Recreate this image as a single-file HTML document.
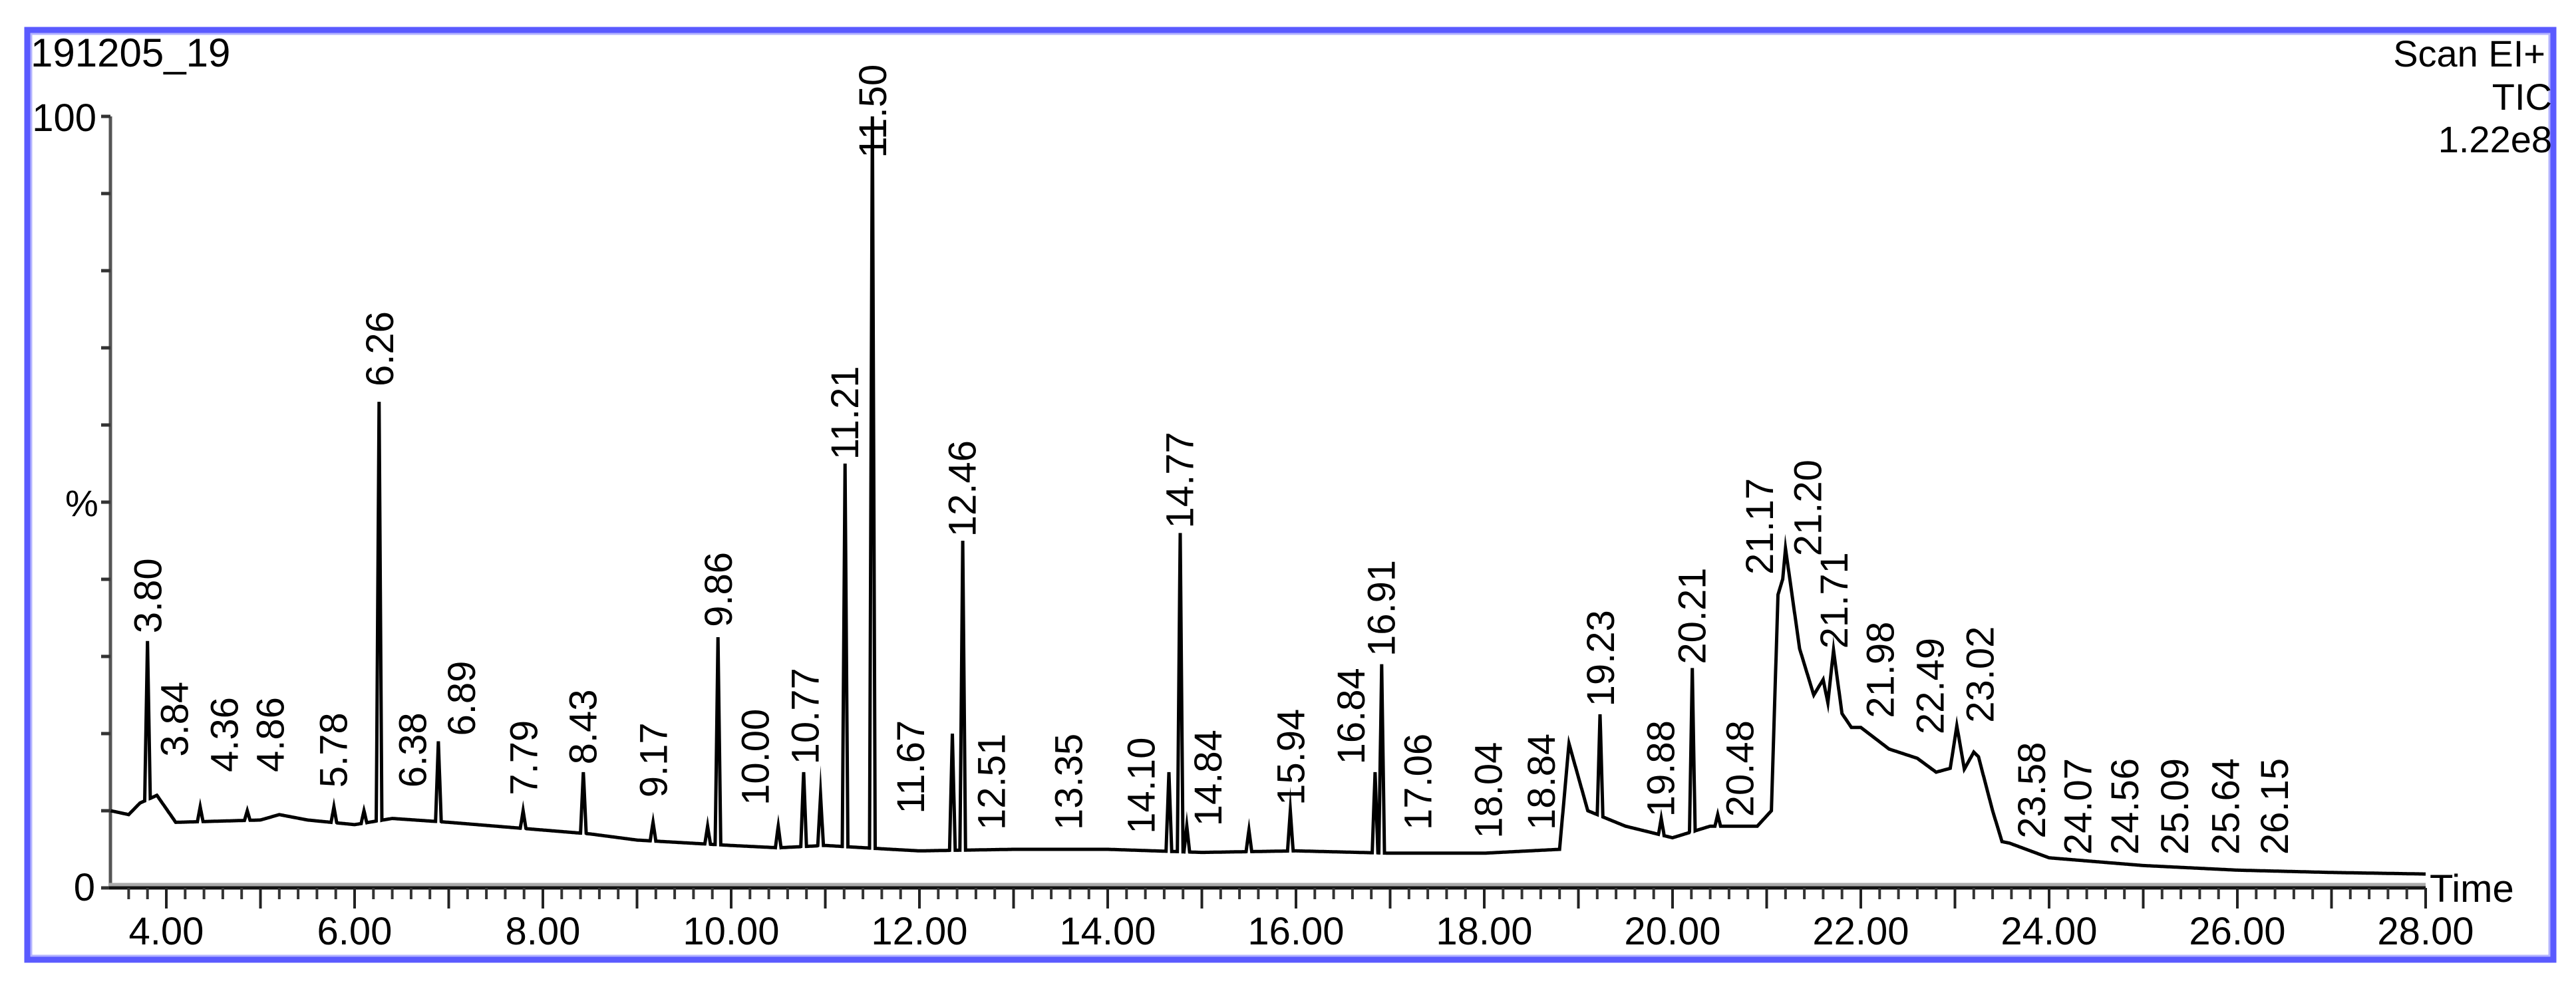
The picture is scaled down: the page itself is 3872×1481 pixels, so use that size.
<!DOCTYPE html>
<html><head><meta charset="utf-8"><style>
html,body{margin:0;padding:0;background:#fff;}
svg{display:block;font-family:"Liberation Sans",Arial,sans-serif;}
</style></head><body>
<svg id="chart" width="3872" height="1481" viewBox="0 0 3872 1481" xmlns="http://www.w3.org/2000/svg">
<rect x="41" y="45" width="3797" height="1398" fill="none" stroke="#5a5aff" stroke-width="9"/>
<rect x="47" y="51" width="3785" height="1386" fill="none" stroke="#b4b4ff" stroke-width="3"/>
<text x="46" y="100" font-size="60">191205_19</text>
<text x="3826" y="100" font-size="56" text-anchor="end">Scan  EI+</text>
<text x="3836" y="165" font-size="56" text-anchor="end">TIC</text>
<text x="3836" y="229" font-size="56" text-anchor="end">1.22e8</text>
<text x="145" y="197" font-size="58" text-anchor="end">100</text>
<text x="98" y="776" font-size="56">%</text>
<text x="143" y="1354" font-size="58" text-anchor="end">0</text>
<text x="3652" y="1356" font-size="58">Time</text>
<g id="axes"></g>
<g id="trace"></g>
<g id="labels"></g>
</svg>
<script>
// ---- data ----
const baseTimes  = [3.41,3.6,3.72,3.9,4.1,5.0,5.2,5.5,6.0,6.4,7.0,8.0,8.5,9.0,10.0,10.5,11.0,11.7,12.0,13.0,14.0,15.0,16.0,17.0,18.0,18.8,18.9,19.1,19.5,20.0,20.4,20.9,21.05,21.12,21.17,21.2,21.35,21.5,21.6,21.65,21.71,21.8,21.9,22.0,22.3,22.6,22.8,22.95,23.02,23.1,23.2,23.25,23.4,23.5,23.58,24.0,25.0,26.0,27.0,28.0];
const baseValues = [10,9.5,11,12,8.5,8.8,9.5,8.8,8.2,9,8.5,7.5,7,6.2,5.5,5.2,5.5,5,4.8,5,5,4.6,4.8,4.5,4.5,5,18.7,10,8,6.5,8,8,10,38,40,44,31,25,27,24,30.8,22.6,20.8,20.8,18,16.8,15,15.5,21,15.4,17.6,17,10,6,5.8,3.9,2.9,2.3,2,1.8];
const peakTimes   = [3.80,4.36,4.86,5.78,6.1,6.26,6.89,7.79,8.43,9.17,9.75,9.86,10.5,10.77,10.95,11.21,11.50,12.35,12.46,14.65,14.77,14.84,15.5,15.94,16.84,16.91,19.23,19.88,20.21,20.48];
const peakHeights = [32,10.5,10,10.5,10,63,19,10,15,8.5,8,32.5,8,15,12,55,100,20,45,15,46,8,7.5,10,15,29,22.5,9,28.5,9.5];
const labelTexts   = ["3.80","3.84","4.36","4.86","5.78","6.26","6.38","6.89","7.79","8.43","9.17","9.86","10.00","10.77","11.21","11.50","11.67","12.46","12.51","13.35","14.10","14.77","14.84","15.94","16.84","16.91","17.06","18.04","18.84","19.23","19.88","20.21","20.48","21.17","21.20","21.71","21.98","22.49","23.02","23.58","24.07","24.56","25.09","25.64","26.15"];
const labelPos     = [3.80,4.08,4.61,5.10,5.77,6.26,6.61,7.13,7.79,8.42,9.17,9.86,10.25,10.78,11.20,11.50,11.90,12.45,12.76,13.58,14.35,14.76,15.06,15.94,16.58,16.90,17.29,18.04,18.60,19.23,19.87,20.20,20.71,20.92,21.43,21.71,22.20,22.73,23.26,23.81,24.30,24.80,25.33,25.87,26.39];
const labelBottoms = [33,17,15,15,13,65,13,19.7,12,16,11.7,33.8,10.7,16,55.5,94.6,9.6,45.5,7.5,7.5,7,46.6,8,10.7,16,30,7.5,6.4,7.5,23.5,9.2,29,9.2,40.6,43,31,22,19.9,21.4,6.4,4.3,4.3,4.3,4.3,4.3];
const xTickLabels = ["4.00","6.00","8.00","10.00","12.00","14.00","16.00","18.00","20.00","22.00","24.00","26.00","28.00"];

// ---- axis functions ----
const X0=250, PXM=141.5;
function xs(t){return X0+(t-4)*PXM;}
function ys(p){return 1335-p*11.6;}
const NS="http://www.w3.org/2000/svg";
function mk(tag,attrs,parent){const e=document.createElementNS(NS,tag);for(const k in attrs)e.setAttribute(k,attrs[k]);parent.appendChild(e);return e;}

// axes
const ax=document.getElementById('axes');
const yl=mk('line',{x1:166,y1:175,x2:166,y2:1337,stroke:'#555',"stroke-width":5},ax);


for(let p=0;p<=100;p+=10){
  const tk=mk('line',{x1:152,y1:ys(p),x2:166,y2:ys(p),stroke:'#333',"stroke-width":5},ax);
  
  
}
mk('line',{x1:164,y1:1330,x2:3646,y2:1330,stroke:'#aaa',"stroke-width":5},ax);
const xl=mk('line',{x1:164,y1:1335,x2:3646,y2:1335,stroke:'#111',"stroke-width":5},ax);


for(let i=18;i<=140;i++){
  const t=i/5, major=(i%5===0);
  const tk=mk('line',{x1:xs(t),y1:1335,x2:xs(t),y2:major?1366:1352,stroke:major?'#222':'#333',"stroke-width":4},ax);
  
  
}
xTickLabels.forEach(s=>{
  const tx=mk('text',{x:xs(parseFloat(s)),y:1420,"font-size":58,"text-anchor":"middle"},ax);
  tx.textContent=s;
  
  
});

// trace
function baseAt(t){
  if(t<=baseTimes[0])return baseValues[0];
  for(let i=1;i<baseTimes.length;i++){
    if(t<=baseTimes[i]){const f=(t-baseTimes[i-1])/(baseTimes[i]-baseTimes[i-1]);return baseValues[i-1]+f*(baseValues[i]-baseValues[i-1]);}
  }
  return baseValues[baseValues.length-1];
}
const W=0.03;
let pts=[];
for(let t=3.41;t<=28.0001;t+=0.005){
  let v=baseAt(t);
  for(let j=0;j<peakTimes.length;j++){
    const d=Math.abs(t-peakTimes[j]);
    if(d<W){const pv=peakHeights[j]-(peakHeights[j]-baseAt(peakTimes[j]))*(d/W);if(pv>v)v=pv;}
  }
  pts.push([t,v]);
}
peakTimes.forEach((t,j)=>pts.push([t,peakHeights[j]]));
pts.sort((a,b)=>a[0]-b[0]);
const tr=document.getElementById('trace');
const pl=mk('polyline',{points:pts.map(p=>xs(p[0]).toFixed(1)+','+ys(p[1]).toFixed(1)).join(' '),fill:'none',stroke:'#000',"stroke-width":5,"stroke-linejoin":"miter","stroke-miterlimit":20},tr);



// peak labels
const lg=document.getElementById('labels');
labelTexts.forEach((s,i)=>{
  const x=xs(labelPos[i])+21, y=ys(labelBottoms[i]);
  const tx=mk('text',{x:x,y:y,"font-size":58,transform:`rotate(-90 ${x} ${y})`},lg);
  tx.textContent=s;
  
  
});
</script>
</body></html>
